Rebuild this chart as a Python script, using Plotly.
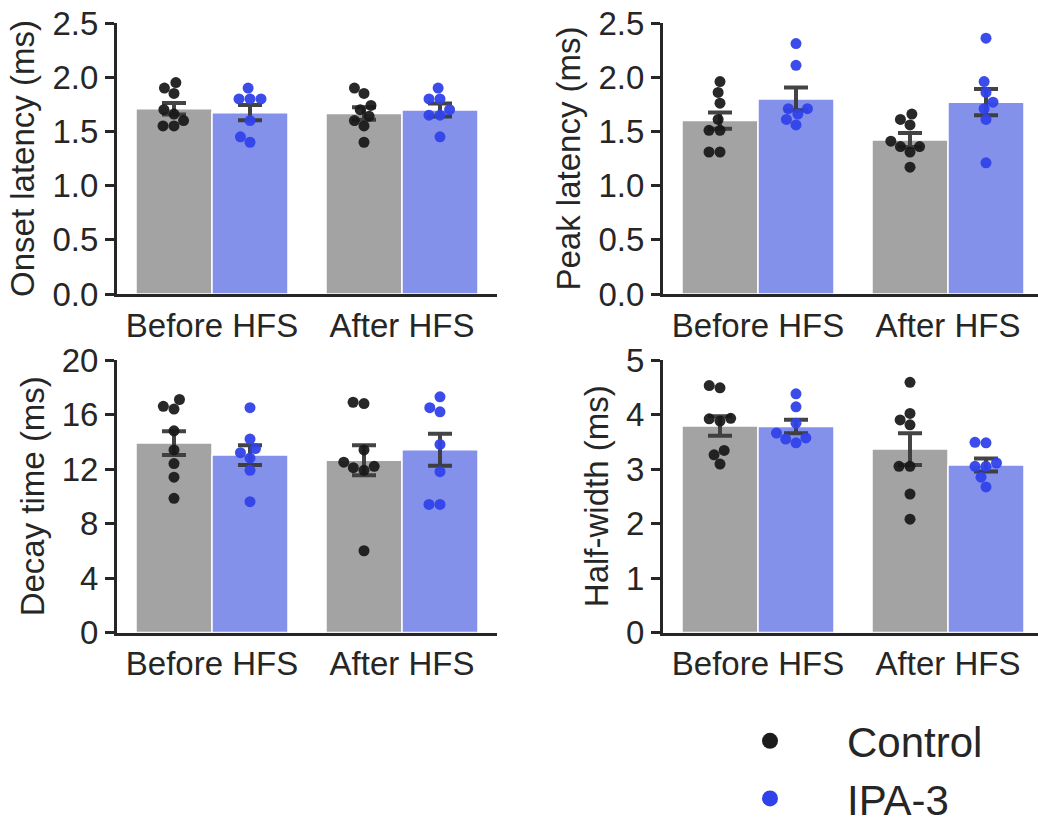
import numpy as np
import plotly.graph_objects as go

W, H = 1038, 821

categories = ["Before HFS", "After HFS"]
groups = ["Control", "IPA-3"]

# ---------------- data ----------------
onset_control_before = [1.95, 1.90, 1.85, 1.70, 1.66, 1.60, 1.55, 1.55]
onset_control_after = [1.90, 1.85, 1.74, 1.70, 1.64, 1.60, 1.55, 1.40]
onset_ipa_before = [1.90, 1.80, 1.80, 1.80, 1.60, 1.45, 1.40]
onset_ipa_after = [1.90, 1.80, 1.80, 1.70, 1.65, 1.65, 1.45]
onset_mean_control = [1.71, 1.665]
onset_mean_ipa = [1.673, 1.697]
onset_sem_control = [0.053, 0.057]
onset_sem_ipa = [0.07, 0.06]

peak_control_before = [1.96, 1.86, 1.76, 1.61, 1.51, 1.51, 1.31, 1.31]
peak_control_after = [1.66, 1.61, 1.56, 1.41, 1.36, 1.36, 1.31, 1.17]
peak_ipa_before = [2.31, 2.11, 1.71, 1.71, 1.66, 1.61, 1.56]
peak_ipa_after = [2.36, 1.96, 1.86, 1.77, 1.71, 1.61, 1.21]
peak_mean_control = [1.60, 1.42]
peak_mean_ipa = [1.80, 1.77]
peak_sem_control = [0.075, 0.065]
peak_sem_ipa = [0.105, 0.12]

decay_control_before = [17.1, 16.6, 16.4, 14.8, 13.4, 12.4, 11.4, 9.85]
decay_control_after = [16.9, 16.8, 13.4, 12.5, 12.2, 12.1, 11.9, 6.0]
decay_ipa_before = [16.5, 14.2, 13.5, 13.2, 12.8, 11.9, 9.6]
decay_ipa_after = [17.3, 16.5, 16.2, 13.8, 11.8, 9.4, 9.4]
decay_mean_control = [13.9, 12.65]
decay_mean_ipa = [13.02, 13.41]
decay_sem_control = [0.87, 1.1]
decay_sem_ipa = [0.72, 1.17]

half_control_before = [4.53, 4.49, 3.93, 3.92, 3.88, 3.34, 3.26, 3.09]
half_control_after = [4.59, 4.02, 3.90, 3.81, 3.05, 3.05, 2.54, 2.08]
half_ipa_before = [4.38, 4.14, 3.84, 3.66, 3.57, 3.55, 3.48]
half_ipa_after = [3.49, 3.48, 3.11, 3.05, 3.05, 2.85, 2.67]
half_mean_control = [3.79, 3.365]
half_mean_ipa = [3.78, 3.073]
half_sem_control = [0.18, 0.29]
half_sem_ipa = [0.125, 0.12]

y_titles = ["Onset latency (ms)", "Peak latency (ms)", "Decay time (ms)", "Half-width (ms)"]
y_ticks = [[0.0, 0.5, 1.0, 1.5, 2.0, 2.5],
           [0.0, 0.5, 1.0, 1.5, 2.0, 2.5],
           [0, 4, 8, 12, 16, 20],
           [0, 1, 2, 3, 4, 5]]
y_tick_text = [["0.0", "0.5", "1.0", "1.5", "2.0", "2.5"],
               ["0.0", "0.5", "1.0", "1.5", "2.0", "2.5"],
               ["0", "4", "8", "12", "16", "20"],
               ["0", "1", "2", "3", "4", "5"]]

panels = [
    dict(points=[[onset_control_before, onset_control_after], [onset_ipa_before, onset_ipa_after]],
         means=[onset_mean_control, onset_mean_ipa], sems=[onset_sem_control, onset_sem_ipa]),
    dict(points=[[peak_control_before, peak_control_after], [peak_ipa_before, peak_ipa_after]],
         means=[peak_mean_control, peak_mean_ipa], sems=[peak_sem_control, peak_sem_ipa]),
    dict(points=[[decay_control_before, decay_control_after], [decay_ipa_before, decay_ipa_after]],
         means=[decay_mean_control, decay_mean_ipa], sems=[decay_sem_control, decay_sem_ipa]),
    dict(points=[[half_control_before, half_control_after], [half_ipa_before, half_ipa_after]],
         means=[half_mean_control, half_mean_ipa], sems=[half_sem_control, half_sem_ipa]),
]

# ---------------- styling / layout ----------------
FONT = "Liberation Sans, Arial, sans-serif"
TXT = "#262626"
bar_colors = ["rgb(163,163,163)", "rgb(132,145,234)"]
pt_colors = ["rgba(24,24,24,0.93)", "rgba(48,66,234,0.95)"]
legend_colors = ["rgb(28,28,28)", "rgb(48,66,234)"]
ERR = "rgba(58,58,58,0.95)"

hue_shift = 0.2
bar_w = 0.4
pt_size = 11
swarm_d = 11.0  # px between point centres

# panel pixel boxes (left, right, top, bottom)
boxes = [(117, 497, 23, 294), (663, 1038, 23, 294), (117, 497, 360, 632.5), (663, 1038, 360, 632.5)]
x_ranges = []
for (l, r, t, b) in boxes:
    x_ranges.append([-0.5, -0.5 + (r - l) / 190.0])


def swarm_offsets(vals, ppu_x, ppu_y, d):
    ys = np.asarray(vals, dtype=float) * ppu_y
    order = np.argsort(ys, kind="stable")
    placed = []
    offs = np.zeros(len(ys))
    for i in order:
        y = ys[i]
        neigh = [(px, py) for (px, py) in placed if abs(py - y) < d]
        cands = [0.0]
        for px, py in neigh:
            dx = np.sqrt(max(d * d - (py - y) ** 2, 0.0))
            cands += [px - dx, px + dx]
        cands = sorted(cands, key=lambda c: (round(abs(c), 6), c))
        chosen = cands[-1]
        for c in cands:
            if all((c - px) ** 2 + (y - py) ** 2 >= d * d - 1e-6 for (px, py) in neigh):
                chosen = c
                break
        placed.append((chosen, y))
        offs[i] = chosen
    return offs / ppu_x


fig = go.Figure()
layout = dict(
    width=W, height=H,
    margin=dict(l=0, r=0, t=0, b=0, autoexpand=False),
    paper_bgcolor="white", plot_bgcolor="white",
    font=dict(family=FONT, size=33, color=TXT),
    showlegend=True,
    barmode="overlay",
    legend=dict(x=693 / W, y=1 - 707 / H, xanchor="left", yanchor="top",
                font=dict(size=42, color=TXT), bgcolor="rgba(0,0,0,0)",
                itemwidth=144, tracegroupgap=0),
)

for k, p in enumerate(panels):
    xa = "x" if k == 0 else f"x{k+1}"
    ya = "y" if k == 0 else f"y{k+1}"
    l, r, t, b = boxes[k]
    ppu_x = 190.0
    ppu_y = (b - t) / y_ticks[k][-1]
    cat_idx = np.arange(len(categories))
    for g in range(2):
        shift = (-hue_shift if g == 0 else hue_shift)
        fig.add_trace(go.Bar(
            x=cat_idx + shift, y=p["means"][g], width=bar_w,
            marker=dict(color=bar_colors[g], line=dict(color="white", width=1.5)),
            error_y=dict(type="data", array=p["sems"][g], visible=True,
                         color=ERR, thickness=4, width=12),
            xaxis=xa, yaxis=ya, showlegend=False, hoverinfo="skip"))
    for g in range(2):
        shift = (-hue_shift if g == 0 else hue_shift)
        xs, ysv = [], []
        for c in range(len(categories)):
            vals = p["points"][g][c]
            offs = swarm_offsets(vals, ppu_x, ppu_y, swarm_d)
            xs += list(c + shift + offs)
            ysv += list(vals)
        fig.add_trace(go.Scatter(
            x=xs, y=ysv, mode="markers", name=groups[g],
            marker=dict(color=pt_colors[g], size=pt_size, line=dict(width=0)),
            xaxis=xa, yaxis=ya, showlegend=False, hoverinfo="skip"))

    layout["xaxis" if k == 0 else f"xaxis{k+1}"] = dict(
        domain=[l / W, r / W], range=x_ranges[k], anchor=ya,
        tickvals=list(range(len(categories))), ticktext=categories,
        showline=True, linewidth=3, linecolor=TXT, ticks="",
        showgrid=False, zeroline=False, tickfont=dict(size=33, color=TXT))
    layout["yaxis" if k == 0 else f"yaxis{k+1}"] = dict(
        domain=[1 - b / H, 1 - t / H], range=[y_ticks[k][0], y_ticks[k][-1]], anchor=xa,
        tickvals=y_ticks[k], ticktext=y_tick_text[k],
        showline=True, linewidth=3, linecolor=TXT, ticks="outside", ticklen=9,
        tickwidth=3, tickcolor=TXT, showgrid=False, zeroline=False,
        tickfont=dict(size=33, color=TXT),
        title=dict(text=y_titles[k], font=dict(size=33, color=TXT), standoff=8))

# legend entries
for g in range(2):
    fig.add_trace(go.Scatter(
        x=[None], y=[None], mode="markers", name=groups[g],
        marker=dict(color=legend_colors[g], size=19), showlegend=True,
        xaxis="x", yaxis="y"))

fig.update_layout(**layout)
fig.write_html("out.html")
